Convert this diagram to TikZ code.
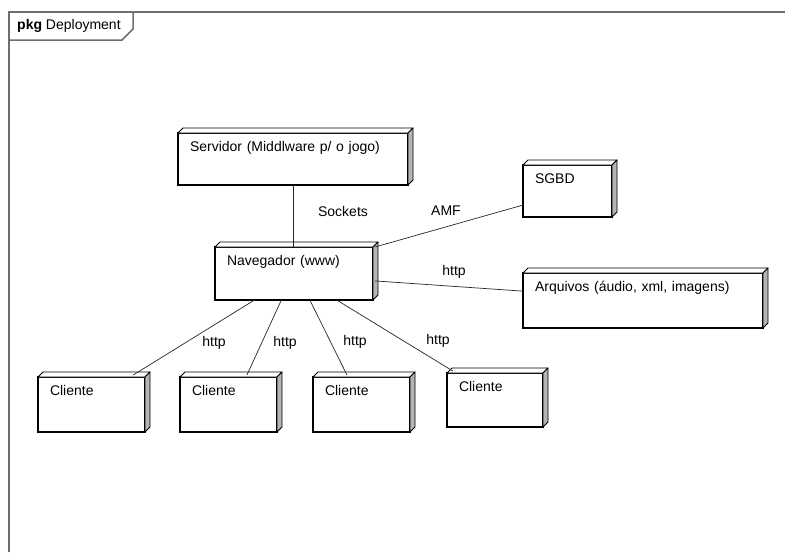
\documentclass[tikz,border=0pt]{standalone}
\usepackage{fontspec}
\setmainfont{Liberation Sans}
\usepackage{tikz}
\usetikzlibrary{calc}
\definecolor{framegray}{HTML}{6E6E6E}
\definecolor{sidegray}{HTML}{B4B4B4}
\tikzset{
  devnode/.style={draw=black, line width=1.4pt, fill=white, anchor=north west, align=left, inner xsep=12pt, inner ysep=7pt, text height=11pt, outer sep=0pt},
  depthtop/.style={draw=black, line width=0.9pt, fill=white, line join=round},
  depthside/.style={draw=black, line width=0.9pt, fill=sidegray, line join=round},
  link/.style={draw=black!85, line width=0.7pt},
  lbl/.style={inner sep=1pt},
  frame/.style={draw=framegray, line width=1.5pt}
}

\begin{document}
\begin{tikzpicture}[x=1pt, y=-1pt, font=\fontsize{14}{16}\selectfont]
  \useasboundingbox (0,0) rectangle (785,552);

  % package frame
  \draw[frame] (9,552) -- (9,12) -- (785,12);
  \draw[frame] (9,40) -- (122,40) -- (133,29) -- (133,12);
  \node[anchor=west, inner sep=0pt] (pkg) at (17,26) {\textbf{pkg} Deployment};

  % nodes
  \node[devnode, text width=206pt, text depth=27pt] (serv) at (178,133) {Servidor (Middlware p/ o jogo)};
  \node[devnode, text width=134pt, text depth=28pt] (nav) at (215,247) {Navegador (www)};
  \node[devnode, text width=65pt, text depth=27pt] (sgbd) at (523,165) {SGBD};
  \node[devnode, text width=216pt, text depth=30pt] (arq) at (523,273) {Arquivos (áudio, xml, imagens)};

  \node[devnode, text width=83pt, text depth=30pt] (cli1) at (38,377) {Cliente};
  \node[devnode, text width=73pt, text depth=30pt] (cli2) at (180,377) {Cliente};
  \node[devnode, text width=73pt, text depth=30pt] (cli3) at (313,377) {Cliente};
  \node[devnode, text width=72pt, text depth=29pt] (cli4) at (447,373) {Cliente};

  % 3d faces
  \foreach \n in {serv,nav,sgbd,arq,cli1,cli2,cli3,cli4} {
    \draw[depthtop] (\n.north west) -- ++(5,-5) -- ($(\n.north east)+(5,-5)$) -- (\n.north east) -- cycle;
    \draw[depthside] (\n.north east) -- ++(5,-5) -- ($(\n.south east)+(5,-5)$) -- (\n.south east) -- cycle;
  }

  % connectors
  \draw[link] (serv.south) -- (serv.south |- nav.north);
  \draw[link] ($(nav.north east)+(2,0)$) -- ($(sgbd.south west)!0.23!(sgbd.north west)$);
  \draw[link] ($(nav.south east)!0.36!(nav.north east)+(2,0)$) -- ($(arq.south west)!0.67!(arq.north west)$);
  \draw[link] ($(nav.south west)!0.25!(nav.south east)$) -- ($(cli1.north west)!0.89!(cli1.north east)+(0,-2)$);
  \draw[link] ($(nav.south west)!0.42!(nav.south east)$) -- ($(cli2.north west)!0.69!(cli2.north east)+(0,-2)$);
  \draw[link] ($(nav.south west)!0.6!(nav.south east)$) -- ($(cli3.north west)!0.35!(cli3.north east)+(0,-2)$);
  \draw[link] ($(nav.south west)!0.77!(nav.south east)$) -- ($(cli4.north west)!0.06!(cli4.north east)+(0,-2)$);

  % labels
  \node[lbl] (lsock) at (343,211) {Sockets};
  \node[lbl] (lamf) at (446,211) {AMF};
  \node[lbl] (larq) at (454,272) {http};
  \node[lbl] (lc1) at (214,343) {http};
  \node[lbl] (lc2) at (285,343) {http};
  \node[lbl] (lc3) at (355,342) {http};
  \node[lbl] (lc4) at (438,341) {http};
\end{tikzpicture}
\end{document}
